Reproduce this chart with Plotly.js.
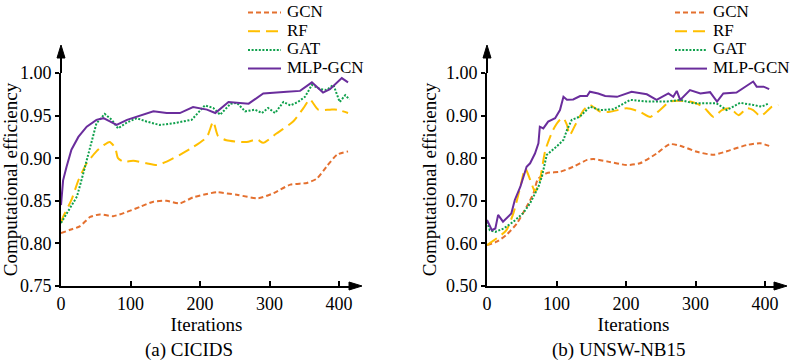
<!DOCTYPE html>
<html>
<head>
<meta charset="utf-8">
<script src="https://cdn.plot.ly/plotly-3.0.1.min.js"></script>
<style>html,body{margin:0;padding:0;background:#fff}#chart{width:797px;height:362px}</style>
</head>
<body>
<div id="chart"></div>
<script>
// ---------- DATA ----------
const seriesNames = ['GCN', 'RF', 'GAT', 'MLP-GCN'];
const panelTitles = ['(a) CICIDS', '(b) UNSW-NB15'];
const xTitle = 'Iterations';
const yTitle = 'Computational efficiency';

// (a) CICIDS
const cicGcnX = [0,13,27,42,56,75,95,114,133,152,171,190,210,224,253,284,306,330,354,368,382,397,413];
const cicGcnY = [0.812,0.816,0.820,0.831,0.834,0.832,0.837,0.843,0.849,0.850,0.847,0.854,0.858,0.860,0.857,0.853,0.859,0.869,0.871,0.876,0.890,0.904,0.908];
const cicRfX = [0,3,15,25,37,51,61,70,78,82,90,104,123,138,152,171,190,210,219,226,238,267,282,291,310,334,349,358,370,387,397,413];
const cicRfY = [0.824,0.831,0.851,0.874,0.894,0.908,0.915,0.919,0.912,0.900,0.896,0.897,0.894,0.892,0.896,0.904,0.913,0.925,0.943,0.926,0.921,0.919,0.922,0.918,0.929,0.943,0.959,0.969,0.957,0.957,0.957,0.953];
const cicGatX = [0,10,23,32,42,51,63,73,82,95,109,123,142,162,181,188,207,219,229,244,253,265,279,289,298,308,320,330,341,351,361,373,382,392,401,409,415];
const cicGatY = [0.824,0.838,0.855,0.882,0.913,0.941,0.952,0.945,0.935,0.942,0.947,0.943,0.939,0.941,0.944,0.945,0.962,0.959,0.951,0.964,0.965,0.955,0.957,0.953,0.959,0.953,0.966,0.962,0.966,0.972,0.986,0.981,0.980,0.986,0.966,0.974,0.969];
const cicMlpX = [0,3,8,15,25,37,51,61,71,80,95,114,133,152,171,190,210,222,241,270,291,325,344,361,377,387,404,413];
const cicMlpY = [0.845,0.874,0.890,0.910,0.925,0.937,0.945,0.947,0.943,0.939,0.945,0.950,0.955,0.953,0.953,0.960,0.957,0.953,0.966,0.964,0.976,0.978,0.979,0.989,0.977,0.981,0.994,0.989];

// (b) UNSW-NB15
const unsGcnX = [0,14,28,43,57,67,73,86,105,124,144,153,174,201,220,244,263,282,302,326,350,374,393,406];
const unsGcnY = [0.596,0.604,0.620,0.647,0.686,0.718,0.750,0.765,0.768,0.780,0.796,0.798,0.792,0.784,0.788,0.811,0.833,0.827,0.815,0.808,0.819,0.831,0.835,0.829];
const unsRfX = [0,14,28,38,48,55,64,69,76,84,95,105,110,115,119,127,139,148,163,177,201,220,235,249,263,292,311,326,338,350,362,374,383,393,402,410,419];
const unsRfY = [0.596,0.612,0.631,0.671,0.733,0.776,0.741,0.721,0.749,0.819,0.866,0.890,0.894,0.878,0.854,0.878,0.913,0.925,0.909,0.909,0.917,0.909,0.897,0.913,0.933,0.933,0.921,0.897,0.913,0.917,0.901,0.917,0.913,0.899,0.909,0.921,0.925];
const unsGatX = [0,4,12,24,38,52,62,69,74,79,86,100,110,115,122,134,148,163,182,206,230,259,278,297,316,330,345,364,383,395,406];
const unsGatY = [0.651,0.631,0.627,0.635,0.651,0.671,0.694,0.718,0.733,0.757,0.808,0.827,0.843,0.866,0.890,0.898,0.921,0.913,0.915,0.937,0.933,0.933,0.937,0.929,0.930,0.929,0.913,0.930,0.925,0.921,0.929];
const unsMlpX = [0,7,12,16,23,28,35,40,48,57,62,69,74,76,81,88,98,105,110,115,124,134,144,148,160,170,187,208,230,244,261,268,273,278,292,307,321,331,340,359,371,383,388,398,406];
const unsMlpY = [0.655,0.631,0.635,0.667,0.651,0.659,0.670,0.702,0.733,0.780,0.788,0.811,0.835,0.874,0.870,0.886,0.894,0.913,0.944,0.937,0.938,0.946,0.946,0.956,0.952,0.946,0.944,0.956,0.950,0.937,0.952,0.944,0.958,0.937,0.960,0.952,0.955,0.933,0.952,0.954,0.966,0.980,0.968,0.968,0.962];

// ---------- STYLE ----------
const W = 797, H = 362;
const FONT = 'Liberation Serif, Times New Roman, serif';
const colors = ['#E4702F', '#FFBF00', '#0FA04C', '#6A2D9C'];
const dashes = ['5px,3px', '12px,6px', '2px,1.6px', 'solid'];
const shapesSpline = [true, true, false, false];
const px = v => v / W;
const py = v => 1 - v / H;

const panels = [
  {xa: 'x', ya: 'y', data: [[cicGcnX, cicGcnY], [cicRfX, cicRfY], [cicGatX, cicGatY], [cicMlpX, cicMlpY]]},
  {xa: 'x2', ya: 'y2', data: [[unsGcnX, unsGcnY], [unsRfX, unsRfY], [unsGatX, unsGatY], [unsMlpX, unsMlpY]]}
];

const traces = [];
panels.forEach(p => {
  p.data.forEach((d, i) => {
    traces.push({
      x: d[0], y: d[1], xaxis: p.xa, yaxis: p.ya, type: 'scatter', mode: 'lines',
      name: seriesNames[i], showlegend: false,
      line: {color: colors[i], width: 2, dash: dashes[i], shape: shapesSpline[i] ? 'spline' : 'linear', smoothing: 0.6}
    });
  });
});

// axes geometry (pixels)
const axTop = 73, axBot = 286, arrowTip = 45;
const L = {x0: 61, x1: 352, tip: 362};
const R = {x0: 487, x1: 780, tip: 787};
const pxPer100 = 69.5;

function xAxis(g) {
  return {
    domain: [px(g.x0), px(g.x1)], range: [0, (g.x1 - g.x0) / pxPer100 * 100],
    showline: true, linecolor: '#000', linewidth: 2, ticks: 'inside', ticklen: 5, tickwidth: 2, tickcolor: '#000',
    tick0: 0, dtick: 100, showgrid: false, zeroline: false,
    tickfont: {family: FONT, size: 18, color: '#000'},
    title: {text: xTitle, font: {family: FONT, size: 19, color: '#000'}, standoff: 2}
  };
}
function yAxis(range, dtick) {
  return {
    domain: [py(axBot), py(axTop)], range: range,
    showline: true, linecolor: '#000', linewidth: 2, ticks: 'outside', ticklen: 4, tickwidth: 2, tickcolor: '#000',
    tick0: range[0], dtick: dtick, tickformat: '.2f', showgrid: false, zeroline: false,
    tickfont: {family: FONT, size: 18, color: '#000'},
    title: {text: yTitle, font: {family: FONT, size: 19, color: '#000'}, standoff: 4}
  };
}

const shapes = [];
const annotations = [];
[L, R].forEach(g => {
  shapes.push({type: 'line', xref: 'paper', yref: 'paper', x0: px(g.x0), x1: px(g.x0), y0: py(axTop), y1: py(arrowTip + 8), line: {color: '#000', width: 2}});
  shapes.push({type: 'path', xref: 'paper', yref: 'paper', fillcolor: '#000', line: {color: '#000', width: 1},
    path: `M ${px(g.x0)},${py(arrowTip)} L ${px(g.x0 - 4)},${py(arrowTip + 13)} L ${px(g.x0 + 4)},${py(arrowTip + 13)} Z`});
  shapes.push({type: 'line', xref: 'paper', yref: 'paper', x0: px(g.x1), x1: px(g.tip - 8), y0: py(axBot), y1: py(axBot), line: {color: '#000', width: 2}});
  shapes.push({type: 'path', xref: 'paper', yref: 'paper', fillcolor: '#000', line: {color: '#000', width: 1},
    path: `M ${px(g.tip)},${py(axBot)} L ${px(g.tip - 13)},${py(axBot - 4)} L ${px(g.tip - 13)},${py(axBot + 4)} Z`});
});

// manual legends
const legendRows = [11.5, 30.2, 48.9, 67.6];
const legendPos = [{l0: 248, l1: 281, t: 286}, {l0: 675, l1: 707, t: 712}];
legendPos.forEach(lp => {
  seriesNames.forEach((n, i) => {
    shapes.push({type: 'line', xref: 'paper', yref: 'paper', x0: px(lp.l0), x1: px(lp.l1), y0: py(legendRows[i] + 1), y1: py(legendRows[i] + 1),
      line: {color: colors[i], width: 2, dash: dashes[i]}});
    annotations.push({xref: 'paper', yref: 'paper', x: px(lp.t), y: py(legendRows[i]), xanchor: 'left', yanchor: 'middle',
      text: n, showarrow: false, borderpad: 0, font: {family: FONT, size: 17, color: '#000'}});
  });
});

annotations.push({xref: 'paper', yref: 'paper', x: px(189), y: py(350), xanchor: 'center', yanchor: 'middle', text: panelTitles[0], showarrow: false, font: {family: FONT, size: 19, color: '#000'}});
annotations.push({xref: 'paper', yref: 'paper', x: px(619), y: py(350), xanchor: 'center', yanchor: 'middle', text: panelTitles[1], showarrow: false, font: {family: FONT, size: 19, color: '#000'}});

const layout = {
  width: W, height: H, margin: {l: 0, r: 0, t: 0, b: 0},
  paper_bgcolor: '#fff', plot_bgcolor: 'rgba(0,0,0,0)', showlegend: false,
  font: {family: FONT, color: '#000'},
  xaxis: Object.assign(xAxis(L), {anchor: 'y'}),
  yaxis: Object.assign(yAxis([0.75, 1.0], 0.05), {anchor: 'x'}),
  xaxis2: Object.assign(xAxis(R), {anchor: 'y2'}),
  yaxis2: Object.assign(yAxis([0.5, 1.0], 0.1), {anchor: 'x2'}),
  shapes: shapes, annotations: annotations
};

Plotly.newPlot('chart', traces, layout, {displayModeBar: false, staticPlot: true});
</script>
</body>
</html>
